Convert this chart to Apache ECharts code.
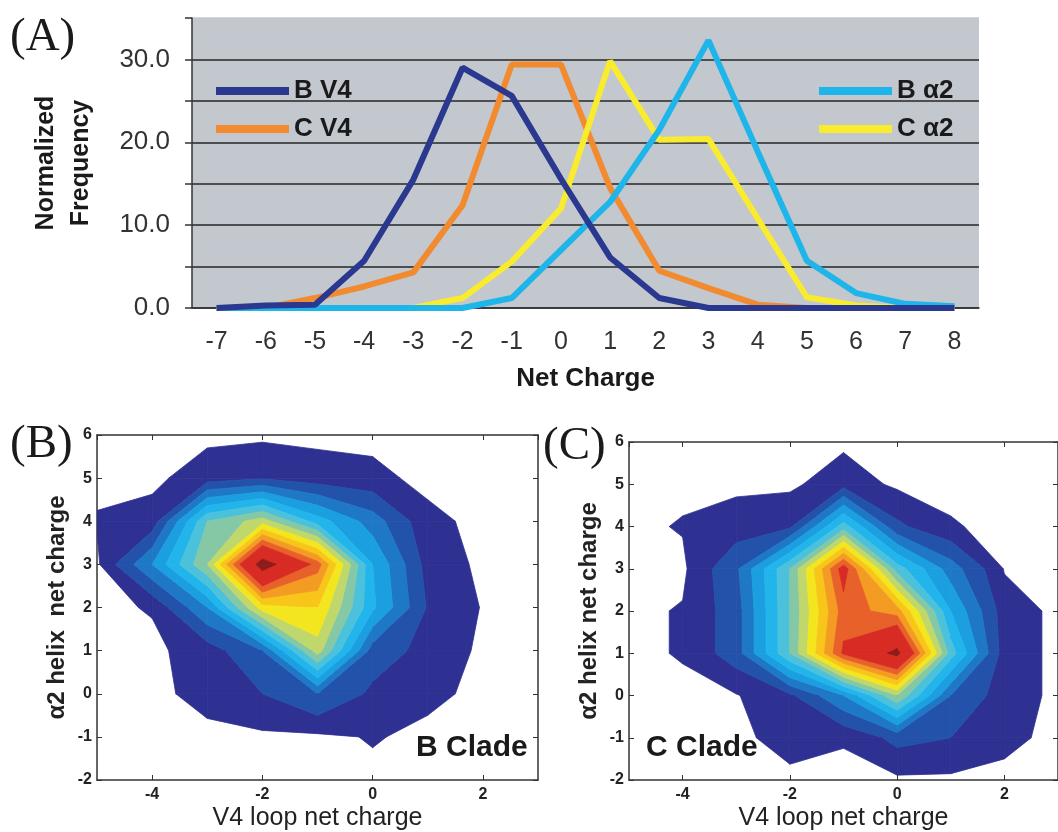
<!DOCTYPE html>
<html>
<head>
<meta charset="utf-8">
<script src="https://cdn.jsdelivr.net/npm/echarts@6/dist/echarts.min.js"></script>
<style>
html, body { margin: 0; padding: 0; background: #fff; }
#main { width: 1058px; height: 832px; }
</style>
</head>
<body>
<div id="main"></div>
<script>
// (A) net charge distributions
var netCharge = ['-7', '-6', '-5', '-4', '-3', '-2', '-1', '0', '1', '2', '3', '4', '5', '6', '7', '8'];
var bV4 = [0, 0.3, 0.4, 5.7, 15.5, 29.0, 25.6, 15.6, 6.1, 1.2, 0, 0, 0, 0, 0, 0];
var cV4 = [0, 0, 1.2, 2.6, 4.3, 12.4, 29.4, 29.4, 14.5, 4.5, 2.4, 0.4, 0, 0, 0, 0];
var bA2 = [0, 0, 0, 0, 0, 0, 1.2, 7.0, 12.8, 21.5, 32.3, 18.9, 5.7, 1.8, 0.5, 0.2];
var cA2 = [0, 0, 0, 0, 0, 1.2, 5.6, 12.0, 29.8, 20.3, 20.4, 10.8, 1.3, 0.3, 0, 0];

// (B), (C) joint distributions on the charge lattice, rows from y=6 down to y=-2
var v4Charge = [-5, -4, -3, -2, -1, 0, 1, 2, 3];
var a2Charge = [6, 5, 4, 3, 2, 1, 0, -1, -2];
var bClade = [
  [0, 0, 0, 0, 0, 0, 0, 0, 0],
  [0, 0, 0.5, 0.9, 0.45, 0.3, 0, 0, 0],
  [0.2, 0.4, 6, 7.5, 4.5, 2.5, 0.3, 0, 0],
  [0, 3, 7, 15.5, 11.5, 4, 0.6, 0, 0],
  [0, 0.2, 3, 8.5, 9, 4.2, 0.9, 0.1, 0],
  [0, 0, 0.5, 2, 7.5, 1.5, 0.7, 0, 0],
  [0, 0, 0.35, 1.0, 2, 0.8, 0.3, 0, 0],
  [0, 0, 0, 0, 0, 0.2, 0, 0, 0],
  [0, 0, 0, 0, 0, 0, 0, 0, 0]
];
var cClade = [
  [0, 0, 0, 0, 0, 0, 0, 0, 0],
  [0, 0, 0, 0, 0.6, 0, 0, 0, 0],
  [0, 0.2, 0.5, 0.8, 5.5, 1.2, 0.2, 0, 0],
  [0, 0, 1.8, 6, 12.6, 5.5, 2.5, 0.1, 0],
  [0, 0.2, 1.5, 6, 11.5, 10.5, 4, 0.5, 0],
  [0, 0.2, 1.5, 6, 12.2, 15, 5.5, 0.5, 0],
  [0, 0, 0.1, 0.8, 3, 7, 2, 0.5, 0],
  [0, 0, 0, 0.4, 0.2, 1.3, 1, 0.3, 0],
  [0, 0, 0, 0, 0, 0, 0, 0, 0]
];
var bandLevels = [0.15, 1, 2, 3, 4, 5, 6, 7, 8, 9, 10, 11, 12, 14.5];
var bandColors = ['#2e3192', '#2352aa', '#1e78c6', '#1b9fe0', '#22b5ec', '#4cc1dc', '#84c8a6', '#c0d76c',
  '#f4e61e', '#f8c51a', '#f39b22', '#e8602a', '#d72b24', '#8e1b1b'];

var font = '"Liberation Sans", Arial, sans-serif';

// keep the part of a polygon (points carry [x, y, value]) above or below a level
function clip(poly, t, above) {
  var out = [];
  for (var i = 0; i < poly.length; i++) {
    var a = poly[i], b = poly[(i + 1) % poly.length];
    var ia = above ? a[2] >= t : a[2] < t;
    var ib = above ? b[2] >= t : b[2] < t;
    if (ia) out.push(a);
    if (ia !== ib) {
      var f = (t - a[2]) / (b[2] - a[2]);
      out.push([a[0] + f * (b[0] - a[0]), a[1] + f * (b[1] - a[1]), t]);
    }
  }
  return out;
}

function cells(grid) {
  var list = [];
  for (var r = 0; r < grid.length - 1; r++) {
    for (var c = 0; c < grid[0].length - 1; c++) {
      list.push([v4Charge[c], a2Charge[r + 1], c, r]);
    }
  }
  return list;
}

// filled contour bands of one lattice cell (marching squares style)
function contourItem(grid) {
  return function (params, api) {
    var c = api.value(2), r = api.value(3);
    function pt(cc, rr) {
      var p = api.coord([v4Charge[cc], a2Charge[rr]]);
      return [p[0], p[1], grid[rr][cc]];
    }
    var quad = [pt(c, r + 1), pt(c + 1, r + 1), pt(c + 1, r), pt(c, r)];
    var children = [];
    bandLevels.forEach(function (lo, k) {
      var poly = clip(quad, lo, true);
      if (k + 1 < bandLevels.length) poly = clip(poly, bandLevels[k + 1], false);
      if (poly.length >= 3) {
        children.push({
          type: 'polygon',
          shape: { points: poly.map(function (p) { return [p[0], p[1]]; }) },
          style: { fill: bandColors[k], stroke: bandColors[k], lineWidth: 0.8 }
        });
      }
    });
    return { type: 'group', children: children };
  };
}

function boxX(grid, top) {
  return {
    gridIndex: grid, type: 'value', min: -5, max: 3, splitNumber: 4,
    position: top ? 'top' : 'bottom',
    axisLine: { onZero: false, lineStyle: { color: '#333', width: 1.5 } },
    axisTick: { inside: true, length: 5, lineStyle: { color: '#333' } },
    axisLabel: {
      show: !top, showMinLabel: false, showMaxLabel: false,
      fontFamily: font, fontWeight: 'bold', fontSize: 16, color: '#222', margin: 7
    },
    splitLine: { show: false },
    name: top ? '' : 'V4 loop net charge', nameLocation: 'middle', nameGap: 26,
    nameTextStyle: { fontFamily: font, fontSize: 25, color: '#222' }
  };
}
function boxY(grid, right, name) {
  return {
    gridIndex: grid, type: 'value', min: -2, max: 6, interval: 1,
    position: right ? 'right' : 'left',
    axisLine: { onZero: false, lineStyle: { color: '#333', width: 1.5 } },
    axisTick: { inside: true, length: 5, lineStyle: { color: '#333' } },
    axisLabel: { show: !right, fontFamily: font, fontWeight: 'bold', fontSize: 16, color: '#222', margin: 5 },
    splitLine: { show: false },
    name: right ? '' : name, nameLocation: 'middle', nameGap: 28,
    nameTextStyle: { fontFamily: font, fontWeight: 'bold', fontSize: 24, color: '#222' }
  };
}

var chart = echarts.init(document.getElementById('main'));
var option = {
  backgroundColor: '#fff',
  animation: false,
  grid: [
    { left: 192, top: 18, width: 787, height: 290, show: true, backgroundColor: '#c3c7ce', borderWidth: 0 },
    { left: 97, top: 435, width: 441, height: 352 },
    { left: 629, top: 442, width: 439, height: 346 }
  ],
  legend: [
    {
      data: ['B V4', 'C V4'], left: 211, top: 73, orient: 'vertical', itemGap: 12,
      icon: 'rect', itemWidth: 73, itemHeight: 8,
      textStyle: { fontFamily: font, fontWeight: 'bold', fontSize: 26, color: '#1a1a1a' }
    },
    {
      data: ['B α2', 'C α2'], left: 814, top: 73, orient: 'vertical', itemGap: 12,
      icon: 'rect', itemWidth: 73, itemHeight: 8,
      textStyle: { fontFamily: font, fontWeight: 'bold', fontSize: 26, color: '#1a1a1a' }
    }
  ],
  xAxis: [
    {
      gridIndex: 0, type: 'category', data: netCharge, boundaryGap: true,
      axisLine: { lineStyle: { color: '#333', width: 1.5 } },
      axisTick: { length: 8, lineStyle: { color: '#333', width: 1.5 } },
      axisLabel: { fontFamily: font, fontSize: 25, color: '#333', margin: 22 },
      name: 'Net Charge', nameLocation: 'middle', nameGap: 58,
      nameTextStyle: { fontFamily: font, fontWeight: 'bold', fontSize: 26, color: '#1a1a1a' }
    },
    boxX(1, false), boxX(1, true), boxX(2, false), boxX(2, true)
  ],
  yAxis: [
    {
      gridIndex: 0, type: 'value', min: 0, max: 35, interval: 5,
      axisLine: { show: true, lineStyle: { color: '#333', width: 1.5 } },
      axisTick: { show: true, length: 7, lineStyle: { color: '#333', width: 1.5 } },
      axisLabel: {
        fontFamily: font, fontSize: 26, color: '#333', margin: 22,
        formatter: function (v) { return v % 10 === 0 ? v.toFixed(1) : ''; }
      },
      splitLine: {
        show: true,
        lineStyle: { width: 1.5, color: ['#262626', '#262626', '#262626', '#262626', '#262626', '#262626', '#262626', '#c3c7ce'] }
      },
      name: 'Normalized\nFrequency', nameLocation: 'middle', nameGap: 93,
      nameTextStyle: { fontFamily: font, fontWeight: 'bold', fontSize: 25, color: '#1a1a1a', lineHeight: 35 }
    },
    boxY(1, false, 'α2 helix  net charge'), boxY(1, true), boxY(2, false, 'α2 helix net charge'), boxY(2, true)
  ],
  series: [
    { name: 'C V4', type: 'line', data: cV4, symbol: 'none', lineStyle: { width: 6 }, color: '#f28a30' },
    { name: 'C α2', type: 'line', data: cA2, symbol: 'none', lineStyle: { width: 6 }, color: '#f9ec2e' },
    { name: 'B α2', type: 'line', data: bA2, symbol: 'none', lineStyle: { width: 6 }, color: '#1eb5ea' },
    { name: 'B V4', type: 'line', data: bV4, symbol: 'none', lineStyle: { width: 6 }, color: '#2a3890' },
    {
      type: 'custom', xAxisIndex: 1, yAxisIndex: 1, data: cells(bClade), clip: true, silent: true,
      encode: { x: 0, y: 1 }, renderItem: contourItem(bClade)
    },
    {
      type: 'custom', xAxisIndex: 3, yAxisIndex: 3, data: cells(cClade), clip: true, silent: true,
      encode: { x: 0, y: 1 }, renderItem: contourItem(cClade)
    }
  ],
  graphic: [
    { type: 'text', left: 10, top: 14, style: { text: '(A)', font: '47px "Liberation Serif", serif', fill: '#1a1a1a' } },
    { type: 'text', left: 10, top: 421, style: { text: '(B)', font: '47px "Liberation Serif", serif', fill: '#1a1a1a' } },
    { type: 'text', left: 543, top: 423, style: { text: '(C)', font: '47px "Liberation Serif", serif', fill: '#1a1a1a' } },
    { type: 'text', left: 416, top: 733, z: 10, style: { text: 'B Clade', font: 'bold 30px "Liberation Sans", Arial', fill: '#1a1a1a' } },
    { type: 'text', left: 646, top: 733, z: 10, style: { text: 'C Clade', font: 'bold 30px "Liberation Sans", Arial', fill: '#1a1a1a' } }
  ]
};
chart.setOption(option);
window.onresize = chart.resize;
</script>
</body>
</html>
